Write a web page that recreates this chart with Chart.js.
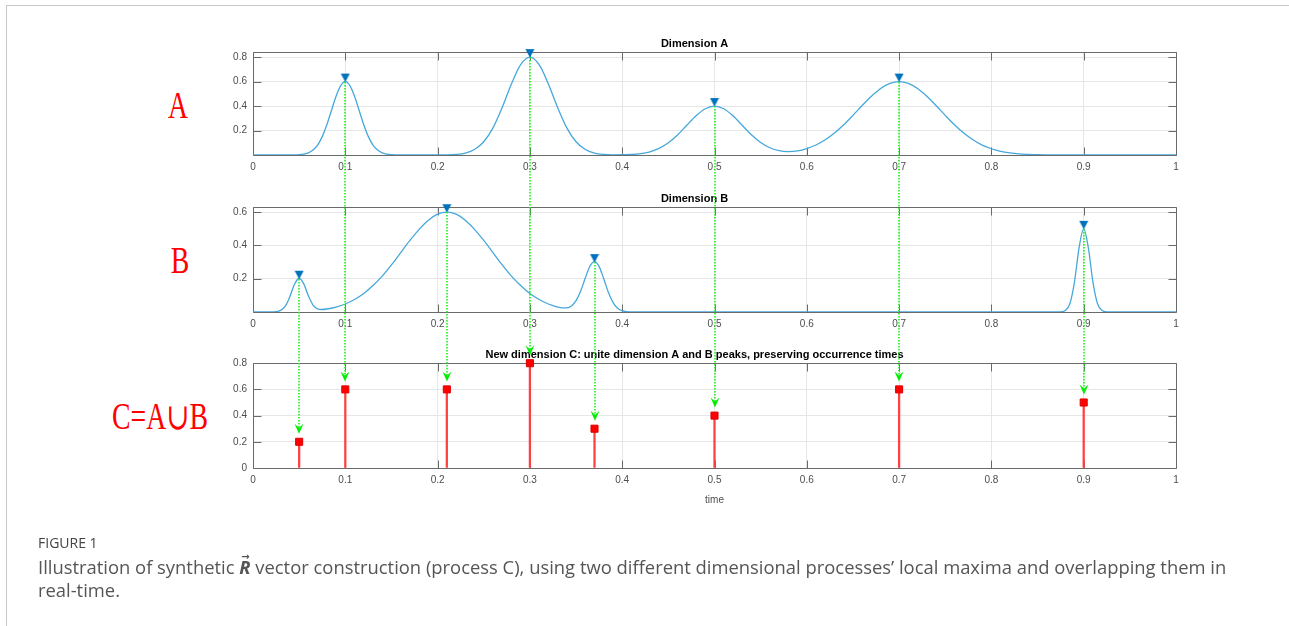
<!DOCTYPE html>
<html>
<head>
<meta charset="utf-8">
<title>Figure 1</title>
<script src="https://cdn.jsdelivr.net/npm/chart.js@4.4.0/dist/chart.umd.min.js"></script>
<style>
  html, body { margin: 0; padding: 0; background: #fff; }
  body { width: 1289px; height: 626px; position: relative; overflow: hidden; }
  #frame { position: absolute; left: 6px; top: 5px; width: 1290px; height: 630px;
           border-top: 1px solid #c8c8c8; border-left: 1px solid #c8c8c8; }
  canvas.plot { position: absolute; left: 0; }
  #arrows { position: absolute; left: 0; top: 0; pointer-events: none; }
  .side { position: absolute; color: #ff0000; font-family: 'Liberation Serif', 'DejaVu Serif', serif;
          font-size: 37px; line-height: 1; white-space: nowrap; transform: translate(-50%, -50%) scaleX(0.75); }
  #caption { position: absolute; left: 38px; top: 533px; width: 1230px; font-family: 'Open Sans', sans-serif; color: #555; }
  #caption .fig { font-size: 14px; line-height: 20px; color: #444; }
  #caption .txt { font-size: 18.4px; line-height: 23px; margin-top: 2px; }
  .nw { white-space: nowrap; }
  .rvec { position: relative; display: inline-block; }
  .rvec .arr { position: absolute; left: 2px; top: -3px; font-size: 10px; line-height: 10px;
               font-weight: bold; font-style: normal; font-family: 'DejaVu Sans', sans-serif; }
</style>
</head>
<body>
<div id="frame"></div>
<div class="side" style="left:178px; top:105px;">A</div>
<div class="side" style="left:180px; top:260px;">B</div>
<div class="side" style="left:160px; top:416px;">C=A∪B</div>

<canvas class="plot" id="chartA" width="1289" height="155" style="top:30px"></canvas>
<canvas class="plot" id="chartB" width="1289" height="157" style="top:185px"></canvas>
<canvas class="plot" id="chartC" width="1289" height="171" style="top:341px"></canvas>
<canvas id="arrows" width="1289" height="626"></canvas>

<div id="caption">
  <div class="fig">FIGURE 1</div>
  <div class="txt">Illustration of synthetic <span class="rvec"><b><i>R</i></b><span class="arr">&#8594;</span></span> vector construction (process C), using two different dimensional processes’ local maxima and overlapping them in <span class="nw">real-time.</span></div>
</div>

<script>
// ---- data ----
const xTicks = [0, 0.1, 0.2, 0.3, 0.4, 0.5, 0.6, 0.7, 0.8, 0.9, 1];

// Dimension A
const aTime = [0, 0.045, 0.05, 0.055, 0.06, 0.065, 0.07, 0.075, 0.08, 0.085, 0.09, 0.095, 0.1,
  0.105, 0.11, 0.115, 0.12, 0.125, 0.13, 0.135, 0.14, 0.145, 0.15, 0.16, 0.2, 0.21,
  0.22, 0.23, 0.24, 0.25, 0.26, 0.27, 0.28, 0.29, 0.3, 0.31, 0.32, 0.33, 0.34, 0.35,
  0.36, 0.37, 0.38, 0.39, 0.4, 0.41, 0.42, 0.43, 0.44, 0.45, 0.46, 0.47, 0.48, 0.49,
  0.5, 0.51, 0.52, 0.53, 0.54, 0.55, 0.56, 0.57, 0.58, 0.59, 0.6, 0.61, 0.62, 0.63,
  0.64, 0.65, 0.66, 0.67, 0.68, 0.69, 0.7, 0.71, 0.72, 0.73, 0.74, 0.75, 0.76, 0.77,
  0.78, 0.79, 0.8, 0.81, 0.82, 0.83, 0.84, 0.85, 0.86, 0.88, 1];
const aValue = [0, 0, 0.002, 0.007, 0.017, 0.04, 0.081, 0.15, 0.247, 0.364, 0.48, 0.567, 0.6,
  0.567, 0.48, 0.364, 0.247, 0.15, 0.081, 0.04, 0.017, 0.007, 0.002, 0, 0, 0.001,
  0.005, 0.016, 0.045, 0.108, 0.222, 0.389, 0.581, 0.738, 0.8, 0.738, 0.581, 0.389, 0.222, 0.108,
  0.045, 0.016, 0.005, 0.001, 0.002, 0.004, 0.011, 0.026, 0.054, 0.1, 0.164, 0.243, 0.32, 0.378,
  0.4, 0.378, 0.32, 0.243, 0.165, 0.102, 0.059, 0.035, 0.028, 0.034, 0.053, 0.082, 0.124, 0.179,
  0.247, 0.324, 0.404, 0.48, 0.543, 0.585, 0.6, 0.585, 0.543, 0.48, 0.404, 0.324, 0.247, 0.179,
  0.124, 0.081, 0.051, 0.03, 0.017, 0.009, 0.005, 0.002, 0.001, 0, 0];
const aPeakTime = [0.1, 0.3, 0.5, 0.7];
const aPeakValue = [0.6, 0.8, 0.4, 0.6];
const aYTicks = [0.2, 0.4, 0.6, 0.8];

// Dimension B
const bTime = [0, 0.02, 0.025, 0.03, 0.035, 0.04, 0.045, 0.05, 0.055, 0.06, 0.065, 0.07, 0.075, 0.08,
  0.09, 0.1, 0.11, 0.12, 0.13, 0.14, 0.15, 0.16, 0.17, 0.18, 0.19, 0.2, 0.21, 0.22, 0.23,
  0.24, 0.25, 0.26, 0.27, 0.28, 0.29, 0.3, 0.31, 0.32, 0.33, 0.335, 0.34, 0.345, 0.35,
  0.355, 0.36, 0.365, 0.37, 0.375, 0.38, 0.385, 0.39, 0.395, 0.4, 0.405, 0.41, 0.87,
  0.875, 0.88, 0.885, 0.89, 0.895, 0.9, 0.905, 0.91, 0.915, 0.92, 0.925, 0.93, 1];
const bValue = [0, 0, 0.002, 0.0095, 0.035, 0.093, 0.167, 0.203, 0.169, 0.097, 0.042, 0.019, 0.015, 0.018,
  0.03, 0.048, 0.075, 0.111, 0.159, 0.216, 0.283, 0.357, 0.43, 0.497, 0.552, 0.588, 0.6, 0.588, 0.552,
  0.497, 0.43, 0.357, 0.283, 0.216, 0.159, 0.111, 0.075, 0.048, 0.03, 0.025, 0.025, 0.036, 0.068,
  0.126, 0.204, 0.275, 0.303, 0.273, 0.2, 0.119, 0.058, 0.023, 0.008, 0.002, 0, 0,
  0.001, 0.009, 0.05, 0.18, 0.387, 0.5, 0.387, 0.18, 0.05, 0.009, 0.001, 0, 0];
const bPeakTime = [0.05, 0.21, 0.37, 0.9];
const bPeakValue = [0.2, 0.6, 0.3, 0.5];
const bYTicks = [0.2, 0.4, 0.6];

// New dimension C = union of A and B peaks
const cTime = [0.05, 0.1, 0.21, 0.3, 0.37, 0.5, 0.7, 0.9];
const cValue = [0.2, 0.6, 0.6, 0.8, 0.3, 0.4, 0.6, 0.5];
const cYTicks = [0, 0.2, 0.4, 0.6, 0.8];

// ---- styling helpers ----
Chart.defaults.font.family = "'Liberation Sans', Arial, sans-serif";
Chart.defaults.font.size = 10;
Chart.defaults.color = '#4d4d4d';

const pts = (xs, ys) => xs.map((x, i) => ({ x: x, y: ys[i] }));

// downward triangle sitting on top of the peak
function makeTriangle() {
    const c = document.createElement('canvas');
    c.width = 10; c.height = 18;
    const g = c.getContext('2d');
    g.fillStyle = '#0072bd';
    g.beginPath();
    g.moveTo(0.5, 1); g.lineTo(9.5, 1); g.lineTo(5, 9.5); g.closePath();
    g.fill();
    return c;
}
const triangle = makeTriangle();

// MATLAB-like box with inward ticks
const matlabBox = {
    id: 'matlabBox',
    beforeDatasetsDraw(chart) {
        const { ctx, chartArea: a, scales: { x, y } } = chart;
        const L = Math.round(a.left) + 0.5, R = Math.round(a.right) + 0.5;
        const T = Math.round(a.top) + 0.5, B = Math.round(a.bottom) + 0.5;
        ctx.save();
        ctx.strokeStyle = '#6a6a6a';
        ctx.lineWidth = 1;
        ctx.beginPath();
        x.ticks.forEach(t => {
            const px = Math.round(x.getPixelForValue(t.value)) + 0.5;
            ctx.moveTo(px, B); ctx.lineTo(px, B - 8);
            ctx.moveTo(px, T); ctx.lineTo(px, T + 8);
        });
        y.ticks.forEach(t => {
            const py = Math.round(y.getPixelForValue(t.value)) + 0.5;
            ctx.moveTo(L, py); ctx.lineTo(L + 8, py);
            ctx.moveTo(R, py); ctx.lineTo(R - 8, py);
        });
        ctx.rect(L, T, R - L, B - T);
        ctx.stroke();
        ctx.restore();
    }
};

function makeOptions(title, yMax, yTicks, xTitle) {
    return {
        responsive: false,
        animation: false,
        events: [],
        layout: { padding: { left: 213, right: 113, top: 0, bottom: 6 } },
        plugins: {
            legend: { display: false },
            tooltip: { enabled: false },
            title: {
                display: true, text: title, color: '#000',
                font: { size: 11, weight: 'bold' },
                padding: { top: 7, bottom: 2 }
            }
        },
        scales: {
            x: {
                type: 'linear', min: 0, max: 1, offset: false,
                afterBuildTicks: s => { s.ticks = xTicks.map(v => ({ value: v })); },
                ticks: { padding: 6, maxRotation: 0, callback: v => String(v) },
                grid: { color: '#e6e6e6', drawTicks: false, offset: false },
                border: { display: false },
                title: xTitle ? { display: true, text: xTitle, color: '#4d4d4d', font: { size: 10 }, padding: { top: 2, bottom: 0 } } : { display: false }
            },
            y: {
                min: 0, max: yMax,
                afterBuildTicks: s => { s.ticks = yTicks.map(v => ({ value: v })); },
                afterFit: s => { s.width = 40; },
                ticks: { padding: 6, callback: v => String(v) },
                grid: { color: '#e6e6e6', drawTicks: false },
                border: { display: false }
            }
        }
    };
}

function curveChart(id, title, yMax, yTicks, xs, ys, px, py) {
    return new Chart(document.getElementById(id), {
        type: 'scatter',
        data: {
            datasets: [
                {
                    type: 'scatter', data: pts(px, py), order: 0, clip: false,
                    pointStyle: triangle, pointRadius: 5
                },
                {
                    type: 'line', data: pts(xs, ys), order: 1,
                    borderColor: '#45a8dc', borderWidth: 1.3, pointRadius: 0,
                    cubicInterpolationMode: 'monotone', fill: false
                }
            ]
        },
        options: makeOptions(title, yMax, yTicks, null),
        plugins: [matlabBox]
    });
}

const chartA = curveChart('chartA', 'Dimension A', 0.84, aYTicks, aTime, aValue, aPeakTime, aPeakValue);
const chartB = curveChart('chartB', 'Dimension B', 0.63, bYTicks, bTime, bValue, bPeakTime, bPeakValue);

const chartC = new Chart(document.getElementById('chartC'), {
    type: 'scatter',
    data: {
        datasets: [
            {
                type: 'scatter', data: pts(cTime, cValue), order: 0, clip: false,
                pointStyle: 'rect', pointRadius: 5,
                backgroundColor: '#ff0000', borderColor: '#e00000', borderWidth: 1
            },
            {
                type: 'bar', data: pts(cTime, cValue), order: 1,
                barThickness: 1.6, backgroundColor: '#ff4040', borderWidth: 0
            }
        ]
    },
    options: makeOptions('New dimension C: unite dimension A and B peaks, preserving occurrence times', 0.8, cYTicks, 'time'),
    plugins: [matlabBox]
});

// green dotted arrows from each peak down to its stem in C
function drawArrows() {
    const ctx = document.getElementById('arrows').getContext('2d');
    const yOf = (ch, v) => ch.canvas.offsetTop + ch.scales.y.getPixelForValue(v);
    const groups = [[chartA, aPeakTime, aPeakValue], [chartB, bPeakTime, bPeakValue]];
    ctx.strokeStyle = '#1cf01c';
    ctx.fillStyle = '#00ee00';
    groups.forEach(([ch, ts, vs]) => {
        ts.forEach((t, i) => {
            const x = Math.round(ch.scales.x.getPixelForValue(t));
            const j = cTime.indexOf(t);
            const tip = yOf(chartC, cValue[j]) - 8;
            ctx.lineWidth = 1.6;
            ctx.setLineDash([1.5, 1.5]);
            ctx.beginPath();
            ctx.moveTo(x, Math.round(yOf(ch, vs[i])));
            ctx.lineTo(x, tip - 6);
            ctx.stroke();
            ctx.setLineDash([]);
            ctx.beginPath();
            ctx.moveTo(x, tip);
            ctx.lineTo(x - 4.5, tip - 10);
            ctx.lineTo(x, tip - 6);
            ctx.lineTo(x + 4.5, tip - 10);
            ctx.closePath();
            ctx.fill();
        });
    });
}
drawArrows();
</script>
</body>
</html>
